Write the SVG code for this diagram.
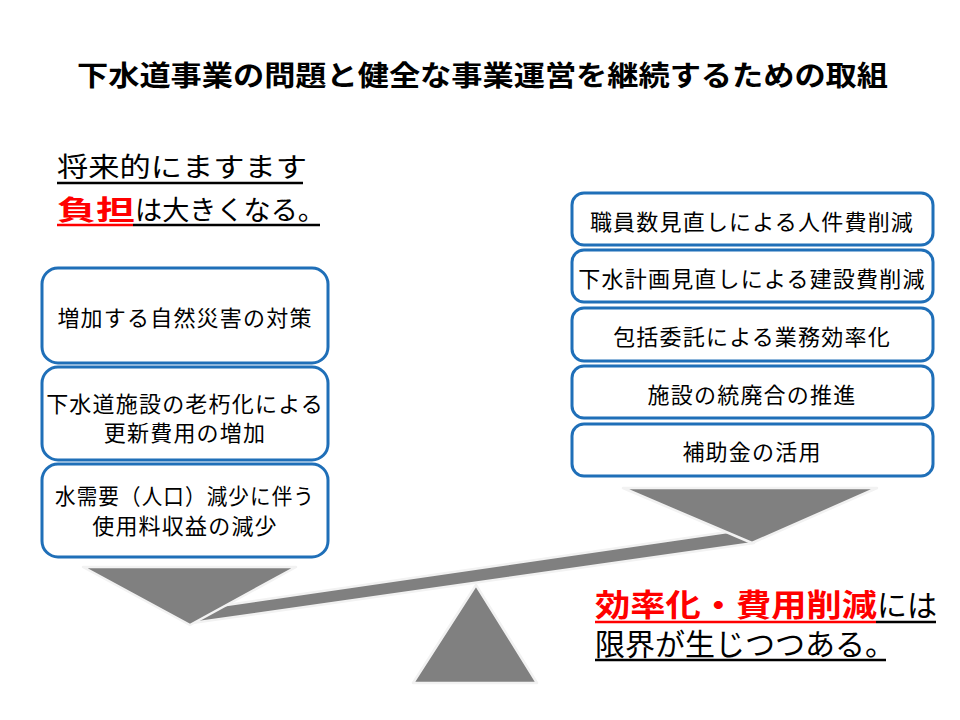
<svg xmlns="http://www.w3.org/2000/svg" width="960" height="720" viewBox="0 0 960 720">
<style>
text{font-family:"Noto Sans CJK JP","Noto Sans",sans-serif;fill:#000}
.box{fill:#fff;stroke:#1f6fb8;stroke-width:3}
.bt{font-size:22px;text-anchor:middle;dominant-baseline:central;letter-spacing:1.2px}
.gray{fill:#808080;stroke:#f2f2f2;stroke-width:2.5;stroke-linejoin:round}
.red{fill:#ff0000;font-weight:bold}
.ul{stroke-width:2.5}
</style>
<rect width="960" height="720" fill="#fff"/>
<g id="title">
<text x="77" y="86" font-size="28" font-weight="bold" textLength="811" lengthAdjust="spacingAndGlyphs">下水道事業の問題と健全な事業運営を継続するための取組</text>
</g>
<g id="heading-left">
<text x="57" y="177" font-size="27" textLength="250" lengthAdjust="spacingAndGlyphs">将来的にますます</text>
<line class="ul" x1="57" y1="183" x2="303" y2="183" stroke="#000"/>
<text class="red" x="57" y="220" font-size="27" textLength="78" lengthAdjust="spacingAndGlyphs">負担</text>
<text x="135" y="220" font-size="27" textLength="190" lengthAdjust="spacingAndGlyphs">は大きくなる。</text>
<line class="ul" x1="57" y1="225" x2="133" y2="225" stroke="#ff0000"/>
<line class="ul" x1="133" y1="225" x2="320" y2="225" stroke="#000"/>
</g>
<g id="scale">
<polygon class="gray" points="192,623 192,610 762,527 754,543"/>
<polygon class="gray" points="83,567 296,567 190,625"/>
<polygon class="gray" points="623,488 877,488 752,543"/>
<polygon class="gray" points="476,585 537,683 413,683"/>
</g>
<g id="left-box-1">
<rect class="box" x="42" y="268" width="286" height="95" rx="16"/>
<text class="bt" x="185" y="316">増加する自然災害の対策</text>
</g>
<g id="left-box-2">
<rect class="box" x="42" y="367" width="286" height="93" rx="16"/>
<text class="bt" x="185" y="402">下水道施設の老朽化による</text>
<text class="bt" x="185" y="431">更新費用の増加</text>
</g>
<g id="left-box-3">
<rect class="box" x="42" y="464" width="286" height="93" rx="16"/>
<text class="bt" x="185" y="494" textLength="260" lengthAdjust="spacingAndGlyphs">水需要（人口）減少に伴う</text>
<text class="bt" x="185" y="524">使用料収益の減少</text>
</g>
<g id="right-box-1">
<rect class="box" x="572" y="193" width="361" height="52" rx="12"/>
<text class="bt" x="752" y="220">職員数見直しによる人件費削減</text>
</g>
<g id="right-box-2">
<rect class="box" x="572" y="250" width="361" height="52" rx="12"/>
<text class="bt" x="752" y="277">下水計画見直しによる建設費削減</text>
</g>
<g id="right-box-3">
<rect class="box" x="572" y="308" width="361" height="53" rx="12"/>
<text class="bt" x="752" y="335">包括委託による業務効率化</text>
</g>
<g id="right-box-4">
<rect class="box" x="572" y="366" width="361" height="52" rx="12"/>
<text class="bt" x="752" y="393">施設の統廃合の推進</text>
</g>
<g id="right-box-5">
<rect class="box" x="572" y="424" width="361" height="52" rx="12"/>
<text class="bt" x="752" y="450">補助金の活用</text>
</g>
<g id="heading-right">
<text class="red" x="595" y="616" font-size="31" textLength="282" lengthAdjust="spacingAndGlyphs">効率化・費用削減</text>
<text x="877" y="616" font-size="30" textLength="60" lengthAdjust="spacingAndGlyphs">には</text>
<line class="ul" x1="595" y1="622" x2="876" y2="622" stroke="#ff0000"/>
<line class="ul" x1="876" y1="622" x2="936" y2="622" stroke="#000"/>
<text x="595" y="655" font-size="30" textLength="300" lengthAdjust="spacingAndGlyphs">限界が生じつつある。</text>
<line class="ul" x1="595" y1="660" x2="886" y2="660" stroke="#000"/>
</g>
</svg>
